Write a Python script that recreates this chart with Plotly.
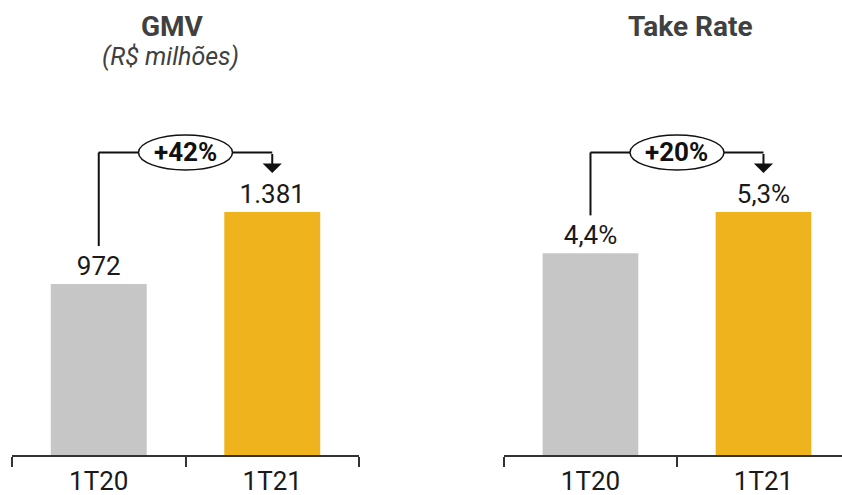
import plotly.graph_objects as go

categories = ["1T20", "1T21"]
gmv_values = [972, 1381]
gmv_labels = ["972", "1.381"]
take_values = [4.4, 5.3]
take_labels = ["4,4%", "5,3%"]
gmv_growth = "+42%"
take_growth = "+20%"
bar_colors = ["#c6c6c6", "#efb31e"]

FONT = "Roboto"
LINE = "#111111"

fig = go.Figure()

fig.add_trace(go.Bar(x=categories, y=gmv_values, text=gmv_labels, textposition="outside",
                     marker=dict(color=bar_colors, line=dict(width=0)), width=0.553,
                     textfont=dict(family=FONT, size=26, color="#1a1a1a"), cliponaxis=False,
                     xaxis="x", yaxis="y", hoverinfo="skip"))
fig.add_trace(go.Bar(x=categories, y=take_values, text=take_labels, textposition="outside",
                     marker=dict(color=bar_colors, line=dict(width=0)), width=0.553,
                     textfont=dict(family=FONT, size=26, color="#1a1a1a"), cliponaxis=False,
                     xaxis="x2", yaxis="y2", hoverinfo="skip"))

W, H = 842, 495
base_px = 455
top_px = 100
yd = [(H - base_px) / H, (H - top_px) / H]
scale = (base_px - top_px) / 243.0  # in units of max value

def axis_common():
    return dict(type="category", showline=True, linecolor="#333333", linewidth=1.5,
                ticks="outside", ticklen=10, tickwidth=1.5, tickcolor="#333333",
                tickson="boundaries", showgrid=False, zeroline=False, ticklabelstandoff=2,
                automargin=False,
                tickfont=dict(family=FONT, size=26, color="#1a1a1a"), fixedrange=True)

fig.update_layout(
    width=W, height=H, margin=dict(l=0, r=0, t=0, b=0),
    paper_bgcolor="white", plot_bgcolor="white", showlegend=False,
    xaxis=dict(domain=[12 / W, 359 / W], range=[-0.5, 1.5], **axis_common()),
    xaxis2=dict(domain=[504 / W, 1.0], range=[-0.5, 1.454], anchor="y2", **axis_common()),
    yaxis=dict(domain=yd, range=[0, max(gmv_values) * scale], visible=False, fixedrange=True,
               automargin=False),
    yaxis2=dict(domain=yd, range=[0, max(take_values) * scale], visible=False, anchor="x2",
                fixedrange=True, automargin=False),
)

shapes = []
annotations = []

def bracket(values, growth, xr, yr):
    m = max(values)
    top = m * 1.245
    tip = m * 1.16
    start = values[0] + m * 0.156
    shapes.append(dict(type="line", xref=xr, yref=yr, x0=0, x1=0, y0=start, y1=top,
                       line=dict(color=LINE, width=2)))
    shapes.append(dict(type="line", xref=xr, yref=yr, x0=0, x1=1, y0=top, y1=top,
                       line=dict(color=LINE, width=2)))
    shapes.append(dict(type="circle", xref=xr, yref=yr, xsizemode="pixel", ysizemode="pixel",
                       xanchor=0.5, yanchor=top, x0=-47, x1=47, y0=-17.5, y1=17.5,
                       fillcolor="white", line=dict(color=LINE, width=1.5)))
    annotations.append(dict(xref=xr, yref=yr, x=0.5, y=top, text="<b>" + growth + "</b>",
                            xanchor="center", yanchor="middle",
                            showarrow=False, font=dict(family=FONT, size=26, color="#111111")))
    annotations.append(dict(xref=xr, yref=yr, x=1, y=tip, ax=1, ay=top, axref=xr, ayref=yr,
                            text="", showarrow=True, arrowhead=1, arrowsize=1.6, arrowwidth=2,
                            arrowcolor=LINE))

bracket(gmv_values, gmv_growth, "x", "y")
bracket(take_values, take_growth, "x2", "y2")

annotations.append(dict(xref="paper", yref="paper", x=172 / W, y=1 - 8 / H, xanchor="center",
                        yanchor="top", text="<b>GMV</b>",
                        showarrow=False, font=dict(family=FONT, size=28, color="#404040")))
annotations.append(dict(xref="paper", yref="paper", x=170 / W, y=1 - 40 / H, xanchor="center",
                        yanchor="top", text="<i>(R$ milhões)</i>",
                        showarrow=False, font=dict(family=FONT, size=25, color="#404040")))
annotations.append(dict(xref="paper", yref="paper", x=690 / W, y=1 - 8 / H, xanchor="center",
                        yanchor="top", text="<b>Take Rate</b>",
                        showarrow=False, font=dict(family=FONT, size=28, color="#404040")))

fig.update_layout(shapes=shapes, annotations=annotations)

fig.write_html("out.html")
